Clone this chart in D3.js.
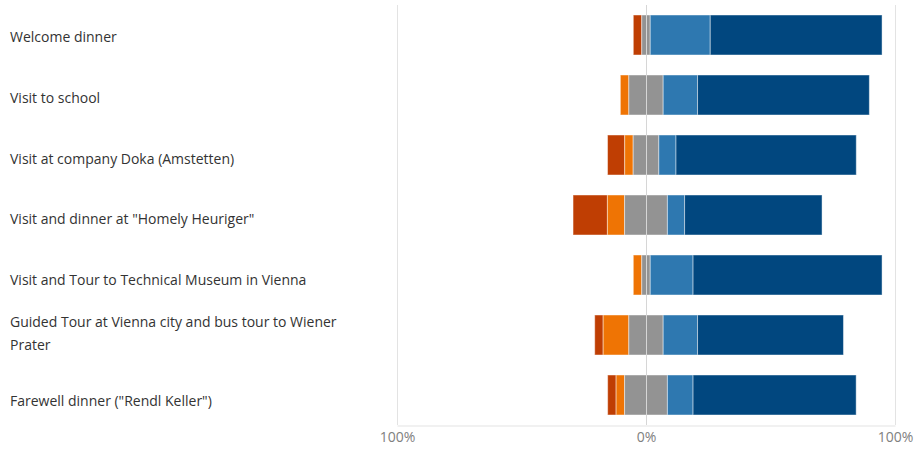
<!DOCTYPE html>
<html>
<head>
<meta charset="utf-8">
<script src="https://cdn.jsdelivr.net/npm/d3@7"></script>
<style>
  html, body { margin: 0; padding: 0; background: #fff; }
  svg { display: block; }
</style>
</head>
<body>
<svg id="chart" width="921" height="451"></svg>
<script>
// Data (percent of respondents, n = 29)
const categories = [
  "Welcome dinner",
  "Visit to school",
  "Visit at company Doka (Amstetten)",
  "Visit and dinner at \"Homely Heuriger\"",
  "Visit and Tour to Technical Museum in Vienna",
  "Guided Tour at Vienna city and bus tour to Wiener Prater",
  "Farewell dinner (\"Rendl Keller\")"
];
const seriesNames = ["Strongly disagree", "Disagree", "Neutral", "Agree", "Strongly agree"];
const stronglyDisagree = [3.4, 0.0, 6.9, 13.8, 0.0, 3.4, 3.4];
const disagree         = [0.0, 3.4, 3.4, 6.9, 3.4, 10.3, 3.4];
const neutral          = [3.4, 13.8, 10.3, 17.2, 3.4, 13.8, 17.2];
const agree            = [24.1, 13.8, 6.9, 6.9, 17.2, 13.8, 10.3];
const stronglyAgree    = [69.0, 69.0, 72.4, 55.2, 75.9, 58.6, 65.5];
const tickValues = [-100, 0, 100];
const tickLabels = ["100%", "0%", "100%"];
const colors = ["#bf3e03", "#ef7404", "#939393", "#2e78b0", "#01477f"];

const svg = d3.select("#chart");
const font = "'Open Sans', 'Noto Sans', sans-serif";

const x = d3.scaleLinear().domain([-100, 100]).range([397, 895]);
const y = d3.scaleBand().domain(categories).range([5, 425]).paddingInner(1/3).paddingOuter(1/6);
const yLabel = d3.scalePoint().domain(categories).range([42.3, 406]);

// gridlines
svg.append("g").selectAll("line").data(tickValues.filter(d => d !== 0)).join("line")
  .attr("x1", d => x(d) + 0.5).attr("x2", d => x(d) + 0.5)
  .attr("y1", 5).attr("y2", 425)
  .attr("stroke", "#e3e3e3").attr("stroke-width", 1);

// build segments
const series = [stronglyDisagree, disagree, neutral, agree, stronglyAgree];
const segments = [];
categories.forEach((c, i) => {
  let start = -(stronglyDisagree[i] + disagree[i] + neutral[i] / 2);
  series.forEach((s, k) => {
    const v = s[i];
    if (v > 0) segments.push({cat: c, k, x0: start, x1: start + v});
    start += v;
  });
});

svg.append("g").selectAll("rect").data(segments).join("rect")
  .attr("x", d => x(d.x0))
  .attr("width", d => x(d.x1) - x(d.x0))
  .attr("y", d => y(d.cat))
  .attr("height", y.bandwidth())
  .attr("fill", d => colors[d.k])
  .attr("stroke", "rgba(255,255,255,0.45)")
  .attr("stroke-width", 1);

// zero line on top
svg.append("line")
  .attr("x1", x(0) + 0.5).attr("x2", x(0) + 0.5)
  .attr("y1", 5).attr("y2", 425)
  .attr("stroke", "#d6d6d6").attr("stroke-width", 1);

// bottom axis
const axis = d3.axisBottom(x).tickValues(tickValues)
  .tickFormat((d, i) => tickLabels[i]).tickSize(0).tickPadding(7);
const ax = svg.append("g").attr("transform", "translate(0,425.5)").call(axis);
ax.select(".domain").attr("stroke", "#e3e3e3");
ax.selectAll("text").attr("fill", "#808080").style("font-family", font).style("font-size", "14px");

// category labels with wrapping
const maxW = 350;
const labels = svg.append("g").selectAll("text").data(categories).join("text")
  .attr("x", 10)
  .attr("fill", "#333")
  .style("font-family", font)
  .style("font-size", "14px");
labels.each(function(d) {
  const t = d3.select(this);
  const words = d.split(" ");
  const lines = [];
  let line = [];
  const tmp = t.append("tspan");
  words.forEach(w => {
    line.push(w);
    tmp.text(line.join(" "));
    if (tmp.node().getComputedTextLength() > maxW && line.length > 1) {
      line.pop();
      lines.push(line.join(" "));
      line = [w];
    }
  });
  lines.push(line.join(" "));
  tmp.remove();
  const base = yLabel(d);
  const first = base - (lines.length - 1) * 18.6;
  lines.forEach((l, i) => {
    t.append("tspan").attr("x", 10).attr("y", first + i * 23.3).text(l);
  });
});
</script>
</body>
</html>
